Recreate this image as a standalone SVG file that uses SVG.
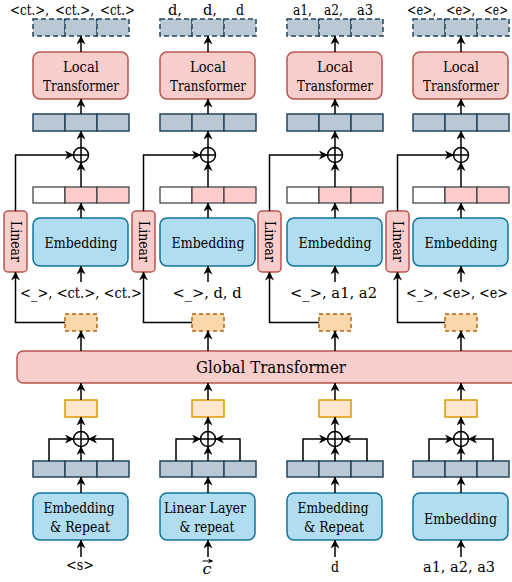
<svg xmlns="http://www.w3.org/2000/svg" width="512" height="582" viewBox="0 0 512 582">
<style>
text{fill:#000;font-family:"DejaVu Serif",serif;}
.t{font-size:14px;text-anchor:middle;}
.lab{font-size:14.5px;}
.labm{font-size:14.5px;text-anchor:middle;}
.gt{font-size:16.5px;text-anchor:middle;}
.pink{fill:#f8cecc;stroke:#b85450;stroke-width:1.5;}
.blue{fill:#b1ddf0;stroke:#10739e;stroke-width:1.5;}
.cell{fill:#bac8d3;stroke:#23445d;stroke-width:1.5;}
.dcell{fill:#bac8d3;stroke:#23445d;stroke-width:1.5;stroke-dasharray:5 3;}
.pc{fill:#ffcccc;stroke:#36393d;stroke-width:1.2;}
.wc{fill:#ffffff;stroke:#36393d;stroke-width:1.2;}
.od{fill:#fad7ac;stroke:#b46504;stroke-width:1.5;stroke-dasharray:4 3;}
.ob{fill:#ffe6cc;stroke:#d79b00;stroke-width:1.5;}
.plus{fill:#fff;stroke:#000;stroke-width:1.5;}
.c{fill:none;stroke:#000;stroke-width:1.5;marker-end:url(#arr);}
</style>
<defs>
<marker id="arr" viewBox="0 0 10 10" refX="9.5" refY="5" markerWidth="9" markerHeight="9" orient="auto" markerUnits="userSpaceOnUse">
<path d="M0,0 L10,5 L0,10 L3,5 z" fill="#000"/>
</marker>
<marker id="vec" viewBox="0 0 10 10" refX="9" refY="5" markerWidth="5" markerHeight="5" orient="auto" markerUnits="userSpaceOnUse">
<path d="M0,0 L10,5 L0,10 L3,5 z" fill="#000"/>
</marker>
<g id="oplus"><circle cx="0" cy="0" r="7.5" class="plus"/><path d="M-7.5,0 H7.5 M0,-7.5 V7.5" stroke="#000" stroke-width="1.5"/></g>
</defs>

<!-- Global transformer -->
<g id="global-transformer">
<rect class="pink" x="17" y="351" width="510" height="32" rx="6"/>
<text class="gt" x="271" y="373" textLength="150" lengthAdjust="spacingAndGlyphs">Global Transformer</text>
</g>

<!-- Column 1 -->
<g id="c1-out-label">
<text class="lab" x="10" y="15" textLength="39" lengthAdjust="spacingAndGlyphs">&lt;ct.&gt;,</text>
<text class="lab" x="55" y="15" textLength="39" lengthAdjust="spacingAndGlyphs">&lt;ct.&gt;,</text>
<text class="lab" x="100" y="15" textLength="35" lengthAdjust="spacingAndGlyphs">&lt;ct.&gt;</text>
</g>
<g id="c1-out-row"><rect class="dcell" x="33" y="19" width="32" height="17"/><rect class="dcell" x="65" y="19" width="32" height="17"/><rect class="dcell" x="97" y="19" width="32" height="17"/></g>
<g id="c1-local"><rect class="pink" x="33" y="52" width="95" height="47" rx="7"/><text class="t" x="81" y="72" textLength="36" lengthAdjust="spacingAndGlyphs">Local</text><text class="t" x="81" y="91" textLength="76" lengthAdjust="spacingAndGlyphs">Transformer</text></g>
<g id="c1-row"><rect class="cell" x="33" y="114" width="32" height="17"/><rect class="cell" x="65" y="114" width="32" height="17"/><rect class="cell" x="97" y="114" width="32" height="17"/></g>
<g id="c1-plus-top"><use href="#oplus" x="81" y="155"/></g>
<g id="c1-emb-row"><rect class="wc" x="33" y="187" width="32" height="16"/><rect class="pc" x="65" y="187" width="32" height="16"/><rect class="pc" x="97" y="187" width="32" height="16"/></g>
<g id="c1-embedding"><rect class="blue" x="33" y="218" width="95" height="48" rx="7"/><text class="t" x="81" y="248" textLength="73" lengthAdjust="spacingAndGlyphs">Embedding</text></g>
<g id="c1-linear"><rect class="pink" x="4" y="211" width="23" height="61" rx="4"/><text class="t" x="15.5" y="241.5" dominant-baseline="central" transform="rotate(90 15.5 241.5)" textLength="41" lengthAdjust="spacingAndGlyphs">Linear</text></g>
<g id="c1-in-label"><text class="labm" x="81" y="298" textLength="122" lengthAdjust="spacingAndGlyphs">&lt;_&gt;, &lt;ct.&gt;, &lt;ct.&gt;</text></g>
<g id="c1-global-out"><rect class="od" x="65" y="314" width="32" height="17"/></g>
<g id="c1-global-in"><rect class="ob" x="65" y="400" width="32" height="17"/></g>
<g id="c1-plus-bot"><use href="#oplus" x="81" y="439"/></g>
<g id="c1-bot-row"><rect class="cell" x="33" y="461" width="32" height="16"/><rect class="cell" x="65" y="461" width="32" height="16"/><rect class="cell" x="97" y="461" width="32" height="16"/></g>
<g id="c1-bot-box"><rect class="blue" x="33" y="493" width="95" height="47" rx="7"/><text class="t" x="79" y="513" textLength="71" lengthAdjust="spacingAndGlyphs">Embedding</text><text class="t" x="80" y="532" textLength="60" lengthAdjust="spacingAndGlyphs">&amp; Repeat</text></g>
<g id="c1-bot-label"><text class="labm" x="80" y="570" textLength="28" lengthAdjust="spacingAndGlyphs">&lt;s&gt;</text></g>

<!-- Column 2 -->
<g id="c2-out-label">
<text class="lab" x="168" y="15" textLength="14" lengthAdjust="spacingAndGlyphs">d,</text>
<text class="lab" x="203" y="15" textLength="14" lengthAdjust="spacingAndGlyphs">d,</text>
<text class="lab" x="236" y="15" textLength="8" lengthAdjust="spacingAndGlyphs">d</text>
</g>
<g id="c2-out-row"><rect class="dcell" x="160" y="19" width="32" height="17"/><rect class="dcell" x="192" y="19" width="32" height="17"/><rect class="dcell" x="224" y="19" width="32" height="17"/></g>
<g id="c2-local"><rect class="pink" x="160" y="52" width="95" height="47" rx="7"/><text class="t" x="208" y="72" textLength="36" lengthAdjust="spacingAndGlyphs">Local</text><text class="t" x="208" y="91" textLength="76" lengthAdjust="spacingAndGlyphs">Transformer</text></g>
<g id="c2-row"><rect class="cell" x="160" y="114" width="32" height="17"/><rect class="cell" x="192" y="114" width="32" height="17"/><rect class="cell" x="224" y="114" width="32" height="17"/></g>
<g id="c2-plus-top"><use href="#oplus" x="208" y="155"/></g>
<g id="c2-emb-row"><rect class="wc" x="160" y="187" width="32" height="16"/><rect class="pc" x="192" y="187" width="32" height="16"/><rect class="pc" x="224" y="187" width="32" height="16"/></g>
<g id="c2-embedding"><rect class="blue" x="160" y="218" width="95" height="48" rx="7"/><text class="t" x="208" y="248" textLength="73" lengthAdjust="spacingAndGlyphs">Embedding</text></g>
<g id="c2-linear"><rect class="pink" x="132" y="211" width="23" height="61" rx="4"/><text class="t" x="143.5" y="241.5" dominant-baseline="central" transform="rotate(90 143.5 241.5)" textLength="41" lengthAdjust="spacingAndGlyphs">Linear</text></g>
<g id="c2-in-label"><text class="labm" x="207" y="298" textLength="69" lengthAdjust="spacingAndGlyphs">&lt;_&gt;, d, d</text></g>
<g id="c2-global-out"><rect class="od" x="192" y="314" width="32" height="17"/></g>
<g id="c2-global-in"><rect class="ob" x="192" y="400" width="32" height="17"/></g>
<g id="c2-plus-bot"><use href="#oplus" x="208" y="439"/></g>
<g id="c2-bot-row"><rect class="cell" x="160" y="461" width="32" height="16"/><rect class="cell" x="192" y="461" width="32" height="16"/><rect class="cell" x="224" y="461" width="32" height="16"/></g>
<g id="c2-bot-box"><rect class="blue" x="160" y="493" width="95" height="47" rx="7"/><text class="t" x="205" y="513" textLength="82" lengthAdjust="spacingAndGlyphs">Linear Layer</text><text class="t" x="207" y="532" textLength="55" lengthAdjust="spacingAndGlyphs">&amp; repeat</text></g>
<g id="c2-bot-label"><text class="labm" x="207" y="574" style="font-style:italic" textLength="9" lengthAdjust="spacingAndGlyphs">c</text><path d="M202.5,561 H212.5" stroke="#000" stroke-width="1" marker-end="url(#vec)"/></g>

<!-- Column 3 -->
<g id="c3-out-label">
<text class="lab" x="293" y="15" textLength="19" lengthAdjust="spacingAndGlyphs">a1,</text>
<text class="lab" x="324" y="15" textLength="19" lengthAdjust="spacingAndGlyphs">a2,</text>
<text class="lab" x="357" y="15" textLength="16" lengthAdjust="spacingAndGlyphs">a3</text>
</g>
<g id="c3-out-row"><rect class="dcell" x="287" y="19" width="32" height="17"/><rect class="dcell" x="319" y="19" width="32" height="17"/><rect class="dcell" x="351" y="19" width="32" height="17"/></g>
<g id="c3-local"><rect class="pink" x="287" y="52" width="95" height="47" rx="7"/><text class="t" x="335" y="72" textLength="36" lengthAdjust="spacingAndGlyphs">Local</text><text class="t" x="335" y="91" textLength="76" lengthAdjust="spacingAndGlyphs">Transformer</text></g>
<g id="c3-row"><rect class="cell" x="287" y="114" width="32" height="17"/><rect class="cell" x="319" y="114" width="32" height="17"/><rect class="cell" x="351" y="114" width="32" height="17"/></g>
<g id="c3-plus-top"><use href="#oplus" x="335" y="155"/></g>
<g id="c3-emb-row"><rect class="wc" x="287" y="187" width="32" height="16"/><rect class="pc" x="319" y="187" width="32" height="16"/><rect class="pc" x="351" y="187" width="32" height="16"/></g>
<g id="c3-embedding"><rect class="blue" x="287" y="218" width="95" height="48" rx="7"/><text class="t" x="335" y="248" textLength="73" lengthAdjust="spacingAndGlyphs">Embedding</text></g>
<g id="c3-linear"><rect class="pink" x="258" y="211" width="23" height="61" rx="4"/><text class="t" x="269.5" y="241.5" dominant-baseline="central" transform="rotate(90 269.5 241.5)" textLength="41" lengthAdjust="spacingAndGlyphs">Linear</text></g>
<g id="c3-in-label"><text class="labm" x="333.5" y="298" textLength="87" lengthAdjust="spacingAndGlyphs">&lt;_&gt;, a1, a2</text></g>
<g id="c3-global-out"><rect class="od" x="319" y="314" width="32" height="17"/></g>
<g id="c3-global-in"><rect class="ob" x="319" y="400" width="32" height="17"/></g>
<g id="c3-plus-bot"><use href="#oplus" x="335" y="439"/></g>
<g id="c3-bot-row"><rect class="cell" x="287" y="461" width="32" height="16"/><rect class="cell" x="319" y="461" width="32" height="16"/><rect class="cell" x="351" y="461" width="32" height="16"/></g>
<g id="c3-bot-box"><rect class="blue" x="287" y="493" width="95" height="47" rx="7"/><text class="t" x="333" y="513" textLength="71" lengthAdjust="spacingAndGlyphs">Embedding</text><text class="t" x="334" y="532" textLength="60" lengthAdjust="spacingAndGlyphs">&amp; Repeat</text></g>
<g id="c3-bot-label"><text class="labm" x="335" y="572" textLength="8" lengthAdjust="spacingAndGlyphs">d</text></g>

<!-- Column 4 -->
<g id="c4-out-label">
<text class="lab" x="407" y="15" textLength="29" lengthAdjust="spacingAndGlyphs">&lt;e&gt;,</text>
<text class="lab" x="446" y="15" textLength="29" lengthAdjust="spacingAndGlyphs">&lt;e&gt;,</text>
<text class="lab" x="508" y="15" text-anchor="end" textLength="24" lengthAdjust="spacingAndGlyphs">&lt;e&gt;</text>
</g>
<g id="c4-out-row"><rect class="dcell" x="413" y="19" width="32" height="17"/><rect class="dcell" x="445" y="19" width="32" height="17"/><rect class="dcell" x="477" y="19" width="32" height="17"/></g>
<g id="c4-local"><rect class="pink" x="413" y="52" width="95" height="47" rx="7"/><text class="t" x="461" y="72" textLength="36" lengthAdjust="spacingAndGlyphs">Local</text><text class="t" x="461" y="91" textLength="76" lengthAdjust="spacingAndGlyphs">Transformer</text></g>
<g id="c4-row"><rect class="cell" x="413" y="114" width="32" height="17"/><rect class="cell" x="445" y="114" width="32" height="17"/><rect class="cell" x="477" y="114" width="32" height="17"/></g>
<g id="c4-plus-top"><use href="#oplus" x="461" y="155"/></g>
<g id="c4-emb-row"><rect class="wc" x="413" y="187" width="32" height="16"/><rect class="pc" x="445" y="187" width="32" height="16"/><rect class="pc" x="477" y="187" width="32" height="16"/></g>
<g id="c4-embedding"><rect class="blue" x="413" y="218" width="95" height="48" rx="7"/><text class="t" x="461" y="248" textLength="73" lengthAdjust="spacingAndGlyphs">Embedding</text></g>
<g id="c4-linear"><rect class="pink" x="386" y="211" width="23" height="61" rx="4"/><text class="t" x="397.5" y="241.5" dominant-baseline="central" transform="rotate(90 397.5 241.5)" textLength="41" lengthAdjust="spacingAndGlyphs">Linear</text></g>
<g id="c4-in-label"><text class="labm" x="508" y="298" style="text-anchor:end" textLength="102" lengthAdjust="spacingAndGlyphs">&lt;_&gt;, &lt;e&gt;, &lt;e&gt;</text></g>
<g id="c4-global-out"><rect class="od" x="445" y="314" width="32" height="17"/></g>
<g id="c4-global-in"><rect class="ob" x="445" y="400" width="32" height="17"/></g>
<g id="c4-plus-bot"><use href="#oplus" x="461" y="439"/></g>
<g id="c4-bot-row"><rect class="cell" x="413" y="461" width="32" height="16"/><rect class="cell" x="445" y="461" width="32" height="16"/><rect class="cell" x="477" y="461" width="32" height="16"/></g>
<g id="c4-bot-box"><rect class="blue" x="413" y="493" width="95" height="47" rx="7"/><text class="t" x="460.5" y="524" textLength="73" lengthAdjust="spacingAndGlyphs">Embedding</text></g>
<g id="c4-bot-label"><text class="labm" x="459" y="572" textLength="72" lengthAdjust="spacingAndGlyphs">a1, a2, a3</text></g>

<!-- Connectors -->
<g id="connectors">
<path class="c" d="M81,52 V36"/><path class="c" d="M81,114 V99"/><path class="c" d="M81,147.5 V131"/>
<path class="c" d="M15.5,211 V155 H73.5"/><path class="c" d="M81,187 V162.5"/><path class="c" d="M81,218 V203"/>
<path class="c" d="M81,282 V266"/><path class="c" d="M65,322.5 H15.5 V272"/><path class="c" d="M81,351 V331"/>
<path class="c" d="M81,400 V383"/><path class="c" d="M81,431.5 V417"/><path class="c" d="M81,461 V446.5"/>
<path class="c" d="M49,461 V439 H73.5"/><path class="c" d="M113,461 V439 H88.5"/><path class="c" d="M81,493 V477"/><path class="c" d="M81,557 V540"/>

<path class="c" d="M208,52 V36"/><path class="c" d="M208,114 V99"/><path class="c" d="M208,147.5 V131"/>
<path class="c" d="M143.5,211 V155 H200.5"/><path class="c" d="M208,187 V162.5"/><path class="c" d="M208,218 V203"/>
<path class="c" d="M208,282 V266"/><path class="c" d="M192,322.5 H143.5 V272"/><path class="c" d="M208,351 V331"/>
<path class="c" d="M208,400 V383"/><path class="c" d="M208,431.5 V417"/><path class="c" d="M208,461 V446.5"/>
<path class="c" d="M176,461 V439 H200.5"/><path class="c" d="M240,461 V439 H215.5"/><path class="c" d="M208,493 V477"/><path class="c" d="M208,557 V540"/>

<path class="c" d="M335,52 V36"/><path class="c" d="M335,114 V99"/><path class="c" d="M335,147.5 V131"/>
<path class="c" d="M269.5,211 V155 H327.5"/><path class="c" d="M335,187 V162.5"/><path class="c" d="M335,218 V203"/>
<path class="c" d="M335,282 V266"/><path class="c" d="M319,322.5 H269.5 V272"/><path class="c" d="M335,351 V331"/>
<path class="c" d="M335,400 V383"/><path class="c" d="M335,431.5 V417"/><path class="c" d="M335,461 V446.5"/>
<path class="c" d="M303,461 V439 H327.5"/><path class="c" d="M367,461 V439 H342.5"/><path class="c" d="M335,493 V477"/><path class="c" d="M335,557 V540"/>

<path class="c" d="M461,52 V36"/><path class="c" d="M461,114 V99"/><path class="c" d="M461,147.5 V131"/>
<path class="c" d="M397.5,211 V155 H453.5"/><path class="c" d="M461,187 V162.5"/><path class="c" d="M461,218 V203"/>
<path class="c" d="M461,282 V266"/><path class="c" d="M445,322.5 H397.5 V272"/><path class="c" d="M461,351 V331"/>
<path class="c" d="M461,400 V383"/><path class="c" d="M461,431.5 V417"/><path class="c" d="M461,461 V446.5"/>
<path class="c" d="M429,461 V439 H453.5"/><path class="c" d="M493,461 V439 H468.5"/><path class="c" d="M461,493 V477"/><path class="c" d="M461,557 V540"/>
</g>
</svg>
